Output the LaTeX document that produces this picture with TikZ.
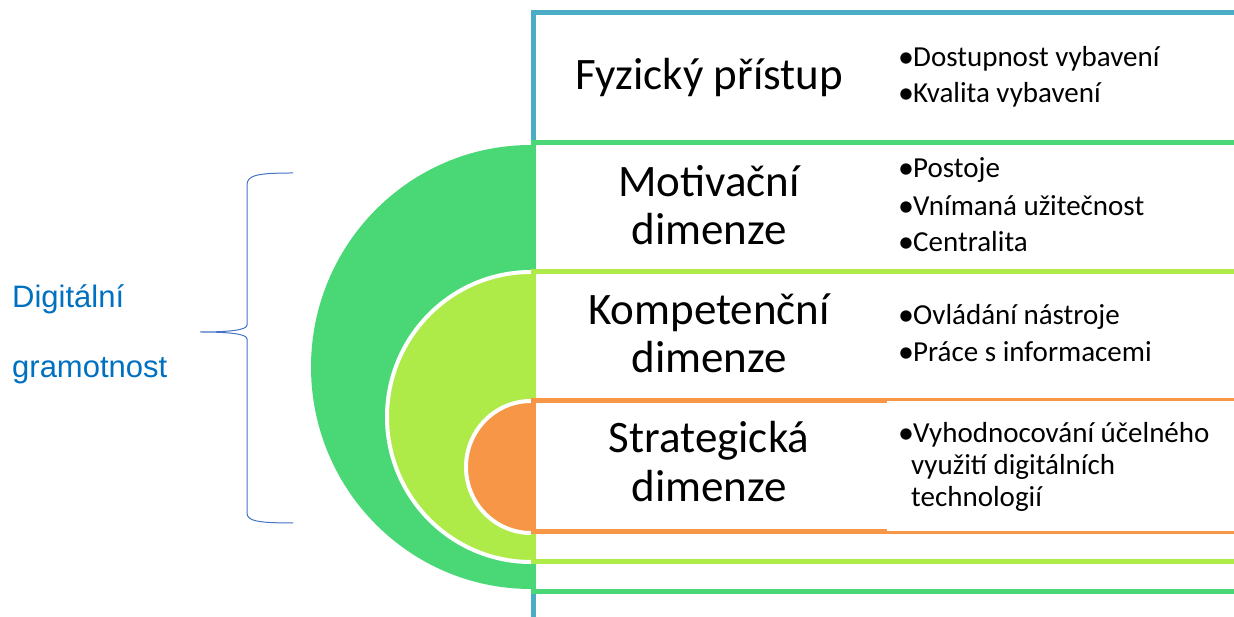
\documentclass[tikz,border=0pt]{standalone}
\usepackage{fontspec}
\setmainfont{Carlito}
\newfontfamily\arialfont{Liberation Sans}
\definecolor{cblue}{HTML}{4BACC6}
\definecolor{cgreen}{HTML}{4AD877}
\definecolor{clime}{HTML}{AEEA48}
\definecolor{corange}{HTML}{F79646}
\definecolor{ctext}{HTML}{0070C0}
\definecolor{cbrace}{HTML}{4472C4}
\newcommand{\mybul}{\makebox[15pt][l]{\raisebox{-1pt}{\fontsize{32}{32}\selectfont •}}}
\tikzset{
  bigtext/.style={anchor=base, inner sep=0pt, font=\fontsize{45}{48}\selectfont},
  bullettext/.style={anchor=base west, inner sep=0pt, font=\fontsize{29}{35}\selectfont},
  lefttext/.style={anchor=base west, inner sep=0pt, text=ctext, font=\arialfont\fontsize{31}{37}\selectfont},
  bracket/.style={line width=5pt, miter limit=10},
}
\begin{document}
\begin{tikzpicture}[x=1pt,y=1pt]
\useasboundingbox (0,0) rectangle (1234,617);
% semicircles
\fill[cgreen] (531,472) arc[start angle=90, end angle=270, x radius=220, y radius=222] -- cycle;
\fill[clime] (531,345) arc[start angle=90, end angle=270, x radius=144, y radius=145] -- cycle;
\draw[white, line width=4pt] (531,345) arc[start angle=90, end angle=270, x radius=144, y radius=145];
\fill[corange] (531,216) arc[start angle=90, end angle=270, x radius=65, y radius=66] -- cycle;
\draw[white, line width=4pt] (531,216) arc[start angle=90, end angle=270, x radius=65, y radius=66];
% brackets
\draw[bracket, cblue] (1240,604) -- (533,604) -- (533,-10);
\draw[bracket, cgreen] (1240,474) -- (533,474) -- (533,25) -- (1240,25);
\draw[bracket, clime] (1240,345) -- (533,345) -- (533,55) -- (1240,55);
\draw[bracket, corange] (887,216) -- (533,216) -- (533,85) -- (887,85);
\draw[corange, line width=3pt] (886,217) -- (1240,217);
\draw[corange, line width=3pt] (886,84) -- (1240,84);
% brace
\draw[cbrace, line width=1pt] (293,444) .. controls (258,444) and (247,442) .. (247,432)
  -- (247,292) .. controls (247,287) and (230,285) .. (200,285)
  .. controls (230,285) and (247,283) .. (247,278)
  -- (247,104) .. controls (247,96) and (258,94) .. (293,94);
% left label
\node[lefttext] (dig1) at (12,309) {Digitální};
\node[lefttext] (dig2) at (12,239) {gramotnost};
% main labels
\node[bigtext] (fyz) at (709,527) {Fyzický přístup};
\node[bigtext] (mot1) at (709,420) {Motivační};
\node[bigtext] (mot2) at (709,372) {dimenze};
\node[bigtext] (kom1) at (709,292) {Kompetenční};
\node[bigtext] (kom2) at (709,244) {dimenze};
\node[bigtext] (str1) at (709,164) {Strategická};
\node[bigtext] (str2) at (709,115) {dimenze};
% bullets
\node[bullettext] (b1) at (898,550) {\mybul Dostupnost vybavení};
\node[bullettext] (b2) at (898,514) {\mybul Kvalita vybavení};
\node[bullettext] (b3) at (898,439) {\mybul Postoje};
\node[bullettext] (b4) at (898,401) {\mybul Vnímaná užitečnost};
\node[bullettext] (b5) at (898,365) {\mybul Centralita};
\node[bullettext] (b6) at (898,292) {\mybul Ovládání nástroje};
\node[bullettext] (b7) at (898,255) {\mybul Práce s informacemi};
\node[bullettext] (b8) at (898,174) {\mybul Vyhodnocování účelného};
\node[bullettext] (b9) at (911,142) {využití digitálních};
\node[bullettext] (b10) at (911,110) {technologií};
\end{tikzpicture}
\end{document}
